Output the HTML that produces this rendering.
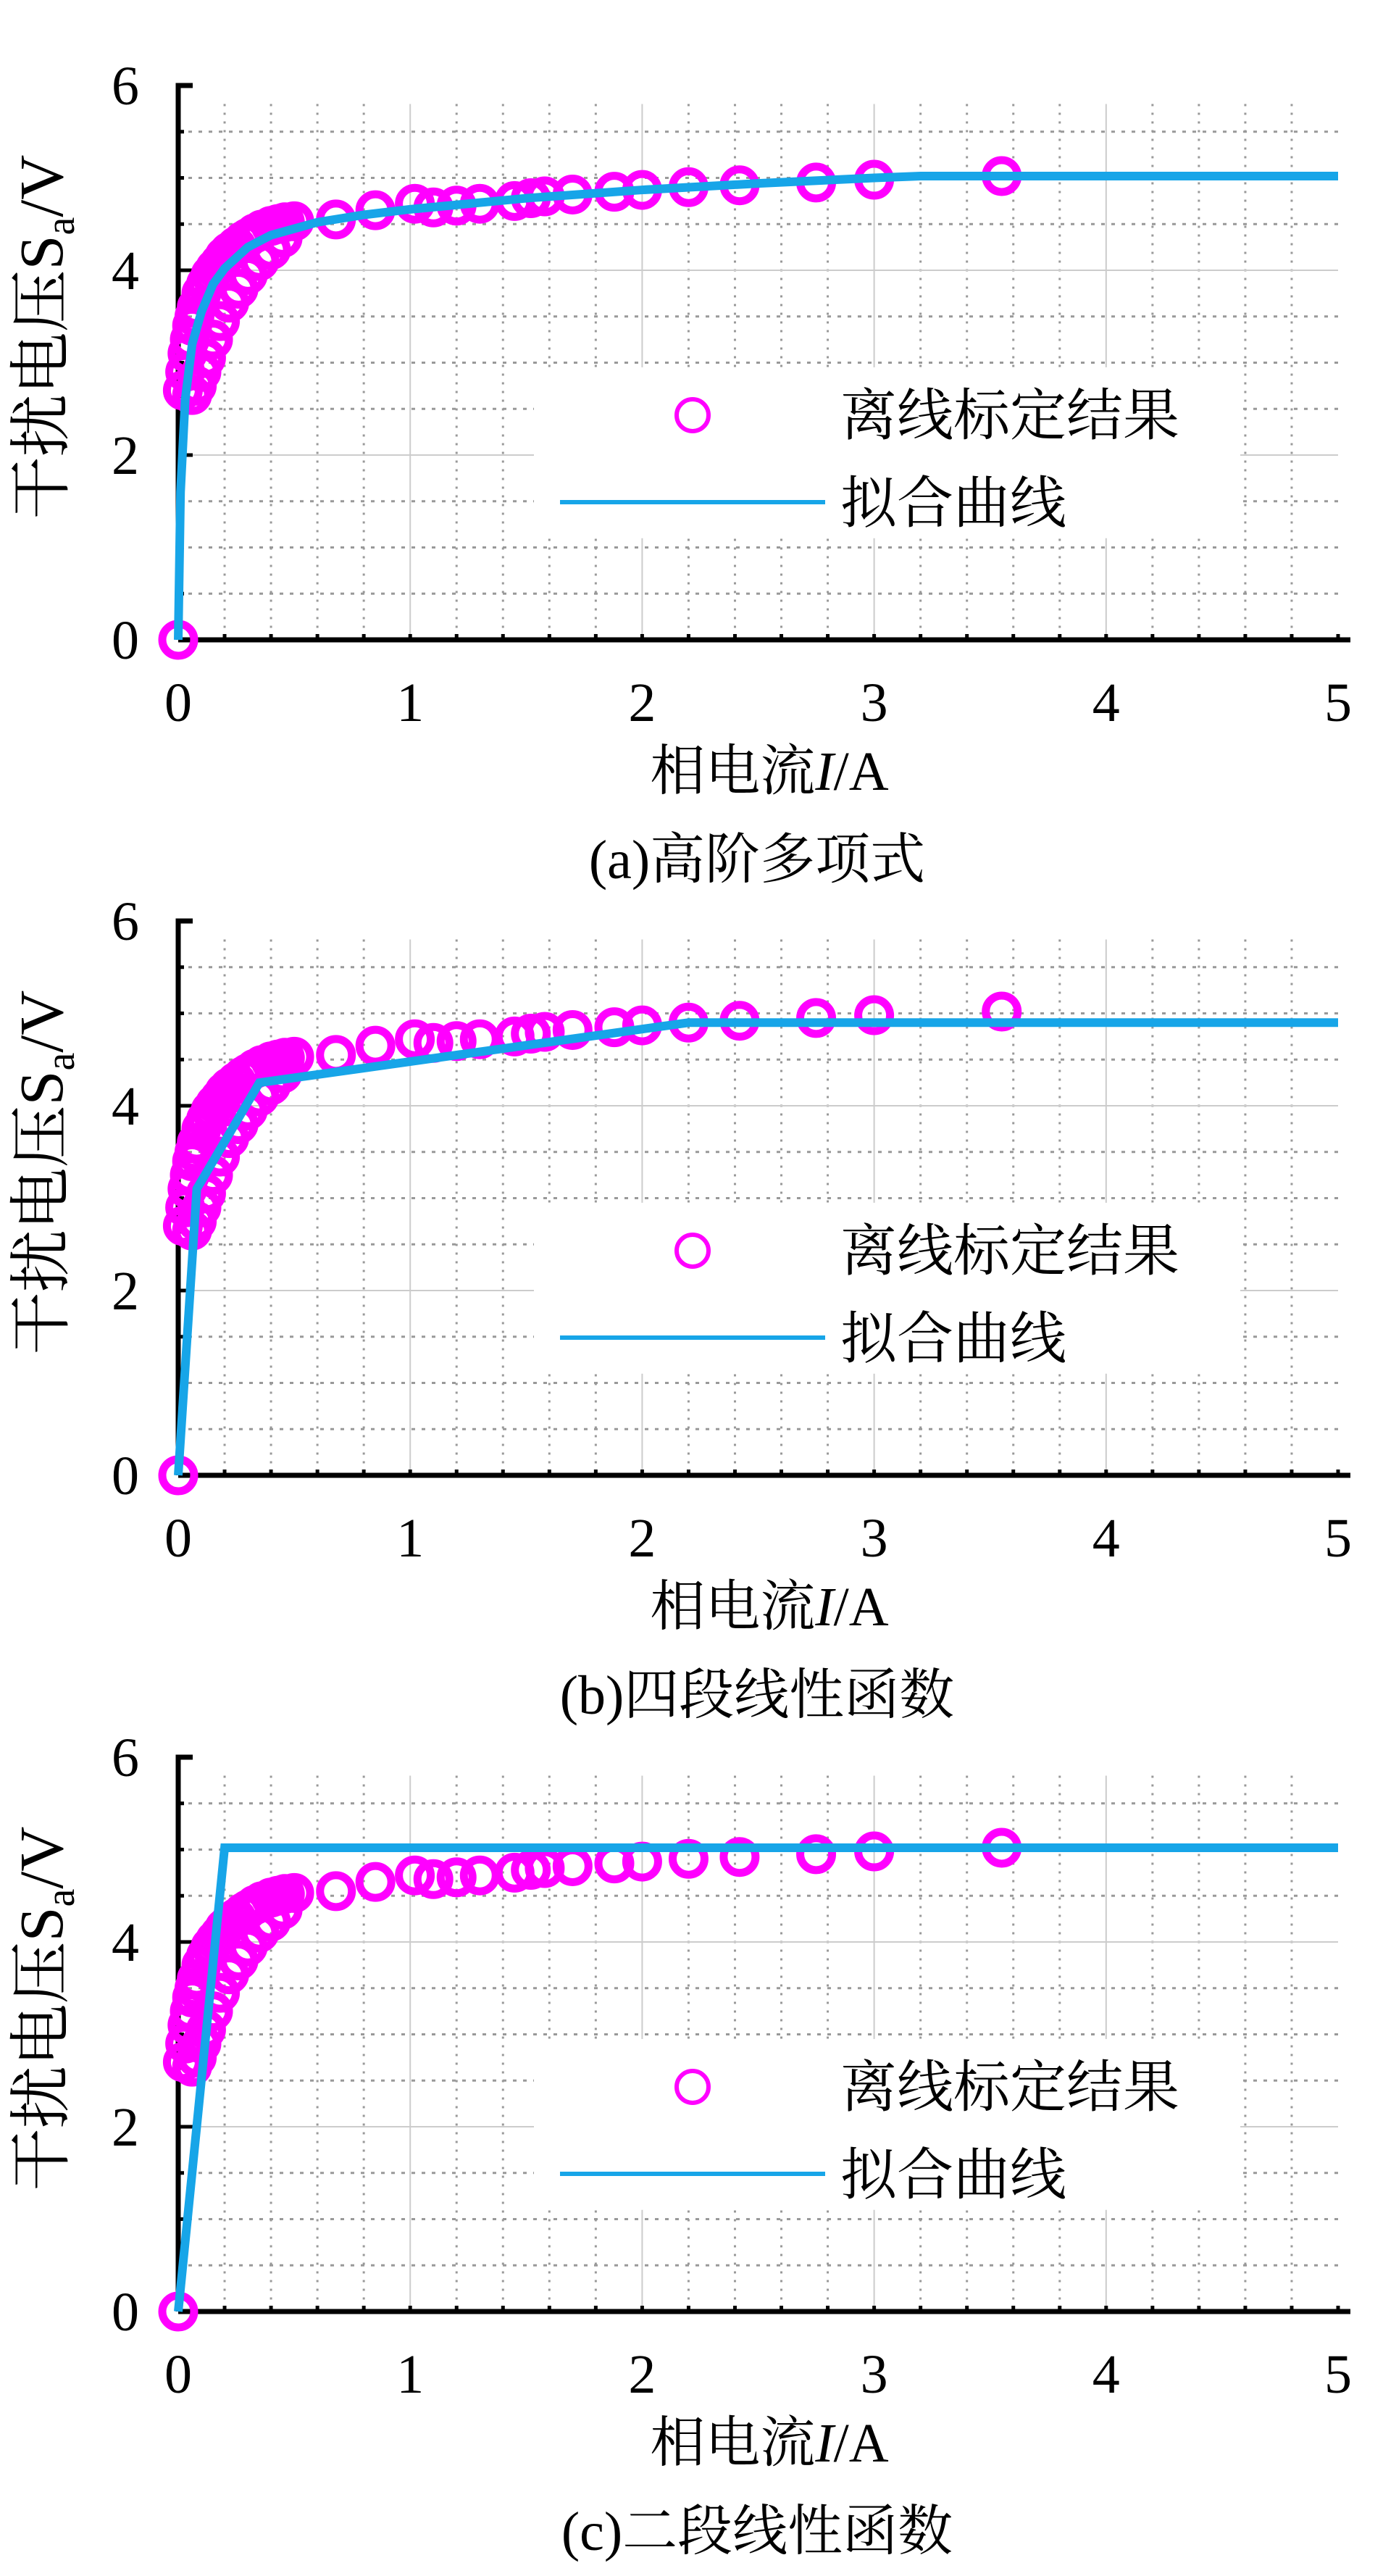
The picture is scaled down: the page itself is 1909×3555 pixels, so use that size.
<!DOCTYPE html>
<html><head><meta charset="utf-8"><style>
html,body{margin:0;padding:0;background:#fff;}
svg{display:block;}
</style></head><body>
<svg id="fig" width="1909" height="3555" viewBox="0 0 1909 3555" xmlns="http://www.w3.org/2000/svg"></svg>
<script>
// ---- data ----
const scatterX = [0,0.02,0.03,0.04,0.05,0.06,0.07,0.08,0.1,0.12,0.14,0.16,0.18,0.2,0.22,0.25,0.28,0.3,0.33,0.36,0.4,0.43,0.46,0.5,
  0.06,0.08,0.1,0.12,0.15,0.18,0.22,0.26,0.3,0.35,0.4,0.45,
  0.68,0.85,1.02,1.1,1.2,1.3,1.45,1.52,1.58,1.7,1.88,2.0,2.2,2.42,2.75,3.0,3.55];
const scatterY = [0,2.7,2.9,3.1,3.25,3.4,3.5,3.6,3.75,3.85,3.95,4.02,4.08,4.15,4.2,4.26,4.32,4.35,4.4,4.44,4.48,4.5,4.52,4.53,
  2.65,2.75,2.9,3.05,3.25,3.45,3.65,3.8,3.95,4.1,4.22,4.35,
  4.55,4.65,4.72,4.68,4.7,4.72,4.75,4.78,4.8,4.82,4.85,4.87,4.9,4.92,4.95,4.98,5.02];
const fitAX = [0,0.01,0.03,0.06,0.1,0.15,0.2,0.3,0.4,0.6,0.8,1.0,1.5,2.0,2.5,3.0,3.2,4.0,5.0];
const fitAY = [0,1.6,2.6,3.2,3.55,3.85,4.02,4.25,4.38,4.52,4.6,4.66,4.78,4.87,4.94,5.0,5.02,5.02,5.02];
const fitBX = [0,0.08,0.35,2.2,5.0];
const fitBY = [0,3.1,4.25,4.9,4.9];
const fitCX = [0,0.2,5.0];
const fitCY = [0,5.02,5.02];
const xTicks = [0,1,2,3,4,5];
const yTicks = [0,2,4,6];
const captions = ["(a)高阶多项式","(b)四段线性函数","(c)二段线性函数"];
const panelOffsets = [0,1153,2307];

const NS = "http://www.w3.org/2000/svg";
const svg = document.getElementById('fig');
const X0 = 246, XU = 320.2, Y0 = 883, YU = 127.5;
function mk(tag, attrs, parent){const e=document.createElementNS(NS,tag);for(const k in attrs)e.setAttribute(k,attrs[k]);(parent||svg).appendChild(e);return e;}
const FS = '"Liberation Serif","Noto Serif CJK SC","Noto Sans CJK SC",serif';

function panel(idx, fx, fy){
  const off = panelOffsets[idx];
  const sx = v => X0 + v*XU;
  const sy = v => Y0 + off - v*YU;
  const g = mk('g',{});
  
  
  const grid = mk('g',{},g);
  
  
  for(let i=1;i<=24;i++){
    const v=i*0.2, major = (i%5===0);
    const l=mk('line',{x1:sx(v),x2:sx(v),y1:sy(5.8),y2:sy(0),stroke:major?'#ccc':'#999','stroke-width':major?2:3,'stroke-dasharray':major?'none':'3 9'},grid);
    
    
  }
  for(let i=1;i<=11;i++){
    const v=i*0.5, major=(i%4===0);
    const l=mk('line',{x1:sx(0),x2:sx(5),y1:sy(v),y2:sy(v),stroke:major?'#ccc':'#999','stroke-width':major?2:3,'stroke-dasharray':major?'none':'5 9'},grid);
    
    
  }
  const lb = mk('rect',{x:737,y:sy(2.95),width:975,height:(2.95-1.1)*YU,fill:'#fff'},g);
  
  
  const ya = mk('path',{d:`M${sx(0)+20} ${sy(6)} H${sx(0)} V${sy(0)}`,stroke:'#000','stroke-width':7,fill:'none'},g);
  
  
  const xa = mk('line',{x1:sx(0),x2:1864,y1:sy(0),y2:sy(0),stroke:'#000','stroke-width':7},g);
  
  
  for(let i=1;i<=25;i++){ mk('line',{x1:sx(i*0.2),x2:sx(i*0.2),y1:sy(0),y2:sy(0)-8,stroke:'#000','stroke-width':5},g); }
  for(let i=1;i<=11;i++){ mk('line',{x1:sx(0),x2:sx(0)+(i%4===0?20:8),y1:sy(i*0.5),y2:sy(i*0.5),stroke:'#000','stroke-width':5},g); }
  xTicks.forEach(t=>{const e=mk('text',{x:sx(t),y:sy(0)+112,'font-family':FS,'font-size':76,'text-anchor':'middle'},g);e.textContent=t;
    
    });
  yTicks.forEach(t=>{const e=mk('text',{x:192,y:sy(t)+26,'font-family':FS,'font-size':76,'text-anchor':'end'},g);e.textContent=t;
    
    });
  const yt = mk('text',{x:0,y:0,transform:`translate(86,${465+off}) rotate(-90)`,'font-family':FS,'font-size':86,'text-anchor':'middle'},g);
  yt.innerHTML='干扰电压S<tspan font-size="56" dy="16">a</tspan><tspan dy="-16">/V</tspan>';
  
  
  const xt = mk('text',{x:1062,y:1090+off,'font-family':FS,'font-size':76,'text-anchor':'middle'},g);
  xt.innerHTML='相电流<tspan font-style="italic">I</tspan>/A';
  
  
  const cp = mk('text',{x:1045,y:1212+off,'font-family':FS,'font-size':76,'text-anchor':'middle'},g);
  cp.textContent=captions[idx];
  
  
  const sg = mk('g',{},g);
  
  
  scatterX.forEach((x,i)=>{
    const c=mk('circle',{cx:sx(x),cy:sy(scatterY[i]),r:22,fill:'none',stroke:'#ff00ff','stroke-width':11},sg);
    
    
  });
  const pts = fx.map((x,i)=>sx(x)+','+sy(fy[i])).join(' ');
  const pl = mk('polyline',{points:pts,fill:'none',stroke:'#17a5e8','stroke-width':12,'stroke-linejoin':'miter'},g);
  
  
  const lm = mk('circle',{cx:956,cy:573+off,r:22,fill:'none',stroke:'#ff00ff','stroke-width':6},g);
  
  
  const t1 = mk('text',{x:1160,y:600+off,'font-family':FS,'font-size':78},g);
  t1.textContent='离线标定结果';
  
  
  const ll = mk('line',{x1:773,x2:1139,y1:693+off,y2:693+off,stroke:'#17a5e8','stroke-width':6},g);
  
  
  const t2 = mk('text',{x:1160,y:721+off,'font-family':FS,'font-size':78},g);
  t2.textContent='拟合曲线';
  
  
}
panel(0, fitAX, fitAY);
panel(1, fitBX, fitBY);
panel(2, fitCX, fitCY);
</script>
</body></html>
